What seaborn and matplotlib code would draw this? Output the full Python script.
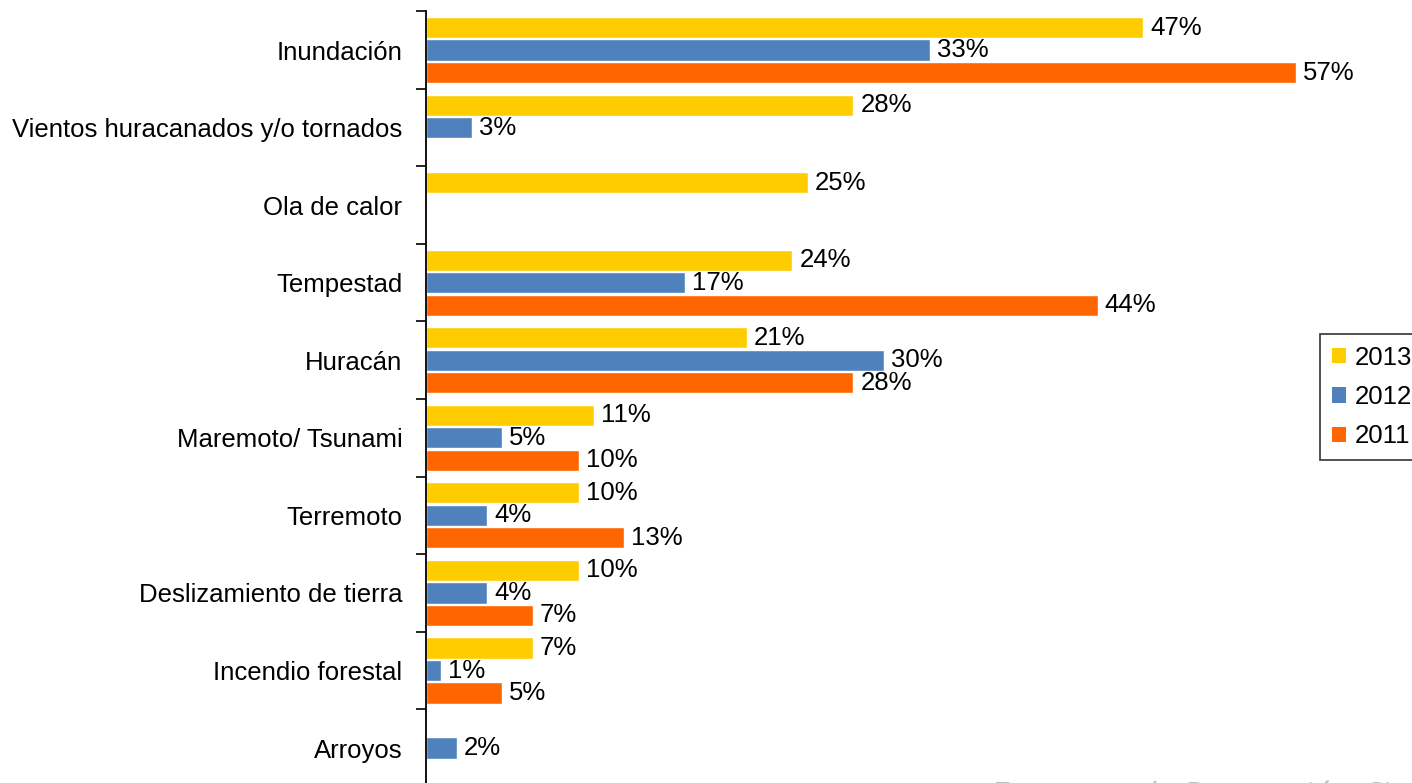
import matplotlib
matplotlib.use("Agg")
import matplotlib.pyplot as plt
import seaborn as sns
import pandas as pd
import numpy as np
from matplotlib.patches import Patch

categories = ["Inundación", "Vientos huracanados y/o tornados", "Ola de calor", "Tempestad",
              "Huracán", "Maremoto/ Tsunami", "Terremoto", "Deslizamiento de tierra",
              "Incendio forestal", "Arroyos"]
years = ["2013", "2012", "2011"]
v2013 = [47, 28, 25, 24, 21, 11, 10, 10, 7, np.nan]
v2012 = [33, 3, np.nan, 17, 30, 5, 4, 4, 1, 2]
v2011 = [57, np.nan, np.nan, 44, 28, 10, 13, 7, 5, np.nan]
colors = ["#FFCC00", "#4F81BD", "#FF6600"]

rows = []
for yr, vals in zip(years, [v2013, v2012, v2011]):
    for c, v in zip(categories, vals):
        rows.append({"cat": c, "year": yr, "val": v})
df = pd.DataFrame(rows)

sns.set_style("white")
plt.rcParams["font.family"] = ["Liberation Sans", "DejaVu Sans"]
plt.rcParams["text.color"] = "black"

FS = 18.5

fig = plt.figure(figsize=(14.12, 7.83), dpi=100)
ax = fig.add_axes([426/1412, -0.0049, 1 - 426/1412, 0.9905])

sns.barplot(data=df, y="cat", x="val", hue="year", order=categories, hue_order=years,
            palette=colors, orient="h", width=0.87, gap=0.06, ax=ax, legend=False,
            saturation=1, err_kws={"linewidth": 0})

for cont in ax.containers:
    labels = ["" if np.isnan(v) else f"{v:.0f}%" for v in cont.datavalues]
    ax.bar_label(cont, labels=labels, padding=5, fontsize=FS, color="black")

ax.set_xlim(0, 64.6)
ax.set_ylim(9.5, -0.5)
ax.set_xlabel("")
ax.set_ylabel("")
ax.set_xticks([])
for s in ["top", "right", "bottom"]:
    ax.spines[s].set_visible(False)
ax.spines["left"].set_color("black")
ax.spines["left"].set_linewidth(1.3)

ax.set_yticks(np.arange(-0.5, 10, 1))
ax.set_yticklabels([])
ax.tick_params(axis="y", which="major", direction="out", length=7, width=1.2, color="black", left=True)
ax.set_yticks(np.arange(10), minor=True)
ax.set_yticklabels(categories, minor=True, fontsize=FS, color="black")
ax.tick_params(axis="y", which="minor", length=0, pad=17, left=True, labelcolor="black")

handles = [Patch(facecolor=c, edgecolor="none", label=y) for c, y in zip(colors, years)]
leg = fig.legend(handles=handles, loc="upper left", bbox_to_anchor=(1320/1412, 1 - 334/783),
                 frameon=True, fontsize=FS, handlelength=0.55, handleheight=0.55,
                 handletextpad=0.35, labelspacing=0.6, borderpad=0.45, fancybox=False,
                 borderaxespad=0)
leg.get_frame().set_edgecolor("black")
leg.get_frame().set_linewidth(1.2)

fig.text(993/1412, 1 - 806/783, "Encuesta de Percepción Ciudadana", fontsize=23.5,
         color="#bfbfbf", va="baseline", ha="left", family=["Open Sans", "DejaVu Sans"])

fig.savefig("out.png", dpi=100)
